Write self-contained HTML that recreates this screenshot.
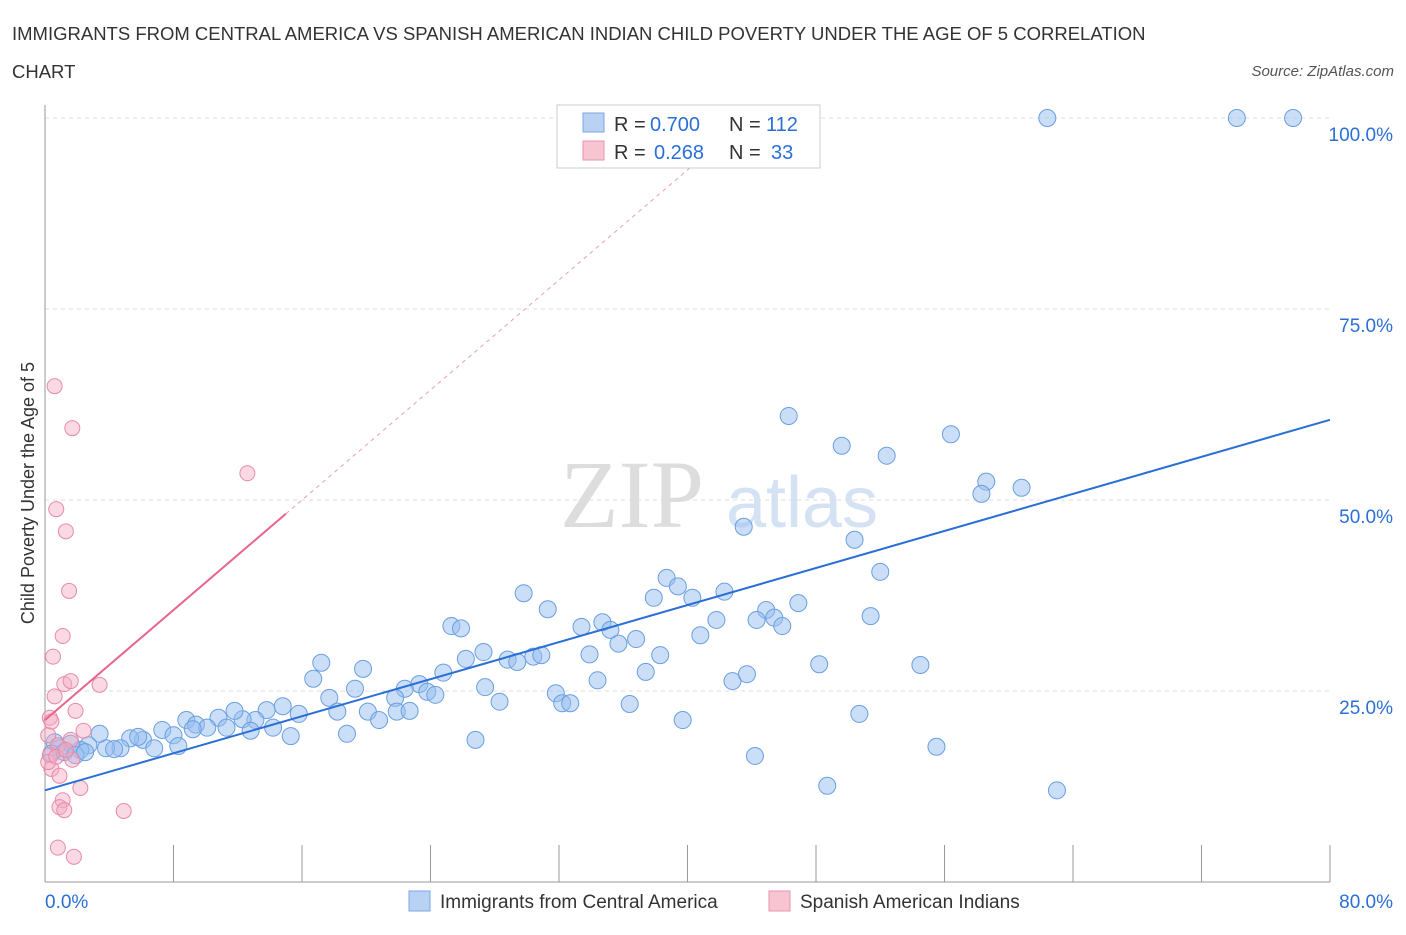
<!DOCTYPE html>
<html><head><meta charset="utf-8"><style>
body{margin:0;background:#fff;font-family:"Liberation Sans",sans-serif;}
</style></head><body>
<svg width="1406" height="930" xmlns="http://www.w3.org/2000/svg" font-family="Liberation Sans, sans-serif">
<text x="12" y="40" font-size="18.5" fill="#333">IMMIGRANTS FROM CENTRAL AMERICA VS SPANISH AMERICAN INDIAN CHILD POVERTY UNDER THE AGE OF 5 CORRELATION</text>
<text x="12" y="78" font-size="18.5" fill="#333">CHART</text>
<text x="1394" y="76" font-size="15" font-style="italic" fill="#555" text-anchor="end">Source: ZipAtlas.com</text>
<g>
<text x="632" y="527" font-size="96" font-family="Liberation Serif, serif" fill="#ddd" text-anchor="middle">ZIP</text>
<text x="802" y="527" font-size="72" fill="#d4e2f4" text-anchor="middle">atlas</text>
</g>
<g id="grid"></g>
<g id="axes"></g>
<g id="lines"></g>
<g id="pts"></g>
<g>
<rect x="557" y="105" width="263" height="63" fill="#fff" stroke="#ccc"/>
<rect x="583" y="113" width="21" height="19" fill="#b9d2f4" stroke="#7aa7e4"/>
<text x="614" y="131" font-size="20" fill="#333">R =</text>
<text x="650" y="131" font-size="20" fill="#2b6fd6">0.700</text>
<text x="729" y="131" font-size="20" fill="#333">N =</text>
<text x="766" y="131" font-size="20" fill="#2b6fd6">112</text>
<rect x="583" y="141" width="21" height="19" fill="#f7c4d2" stroke="#e993ad"/>
<text x="614" y="159" font-size="20" fill="#333">R =</text>
<text x="654" y="159" font-size="20" fill="#2b6fd6">0.268</text>
<text x="729" y="159" font-size="20" fill="#333">N =</text>
<text x="771" y="159" font-size="20" fill="#2b6fd6">33</text>
</g>
<g>
<rect x="409" y="891" width="21" height="20" fill="#b9d2f4" stroke="#7aa7e4"/>
<text x="440" y="908" font-size="19" fill="#333">Immigrants from Central America</text>
<rect x="769" y="891" width="21" height="20" fill="#f7c4d2" stroke="#e993ad"/>
<text x="800" y="908" font-size="19" fill="#333">Spanish American Indians</text>
</g>
<text transform="translate(34,493) rotate(-90)" font-size="18" fill="#333" text-anchor="middle">Child Poverty Under the Age of 5</text>
</svg>
<script>
const blueX=[62.4,74.2,77.7,46.3,49.6,52.4,56.4,58.6,58.3,60.8,43.5,50.4,52.0,38.7,39.4,37.9,40.3,42.3,44.9,46.9,44.3,45.4,45.9,51.4,41.8,40.8,29.8,31.3,34.7,33.4,35.2,35.7,36.8,25.3,25.9,27.3,26.2,28.8,29.4,30.4,30.9,33.9,38.3,37.4,34.4,17.2,19.8,16.7,19.3,24.8,23.3,22.4,23.8,24.3,27.4,28.3,31.8,32.2,32.7,36.4,42.8,43.7,48.2,54.5,39.7,50.7,55.5,44.2,48.7,63.0,26.8,17.7,18.2,20.1,20.8,21.8,21.9,22.7,14.8,15.8,13.8,13.1,12.3,11.8,10.8,11.3,14.2,12.8,15.3,18.8,8.8,9.4,10.1,9.2,7.3,8.0,6.1,5.3,5.8,8.3,6.8,4.7,3.8,3.4,2.7,2.2,1.6,0.9,0.6,0.4,1.2,1.9,2.5,4.3];
const blueY=[100,100,100,61.0,57.1,55.8,58.6,52.4,50.8,51.6,46.5,44.8,40.6,39.8,38.7,37.2,37.2,38.0,35.6,36.5,34.3,34.6,33.5,34.8,34.3,32.3,37.8,35.7,34.0,33.4,33.0,31.2,31.8,33.5,33.2,30.1,29.2,29.1,28.8,29.5,29.7,29.8,29.7,27.5,26.4,28.7,27.9,26.6,25.3,27.4,25.9,25.3,24.9,24.5,25.5,23.6,24.7,23.4,23.4,23.3,26.3,27.2,28.5,28.4,21.2,22.0,17.7,16.5,12.6,12.0,18.6,24.1,22.3,22.3,21.2,24.1,22.3,22.4,23.0,22.0,22.5,21.2,21.3,22.4,21.5,20.2,20.2,19.8,19.1,19.4,21.2,20.6,20.2,20.0,19.9,19.2,18.6,18.8,19.0,17.8,17.5,17.5,17.5,19.4,17.9,17.3,18.1,17.5,18.3,16.8,17.0,16.6,17.0,17.4];
const pinkX=[0.6,1.7,12.6,0.7,1.3,1.5,1.1,0.5,1.2,1.6,3.4,0.6,1.9,0.3,0.4,2.4,0.2,1.6,0.8,0.3,1.7,0.4,0.9,2.2,1.1,0.9,1.2,4.9,0.8,1.8,0.2,0.7,1.3];
const pinkY=[64.9,59.4,53.5,48.8,45.9,38.1,32.2,29.5,25.9,26.3,25.8,24.3,22.4,21.5,21.0,19.8,19.2,18.6,17.9,16.6,16.0,14.8,13.9,12.3,10.7,9.8,9.4,9.3,4.5,3.3,15.7,16.4,17.3];
const blueTrend=[0,12.0,80,60.5];
const pinkTrend=[0,21.2,15,48.2];
const xTicks=[0,8,16,24,32,40,48,56,64,72,80];
const yTicks=[25,50,75,100];
const yTickLabels=["25.0%","50.0%","75.0%","100.0%"];
const NS="http://www.w3.org/2000/svg";
const X=v=>45+v/80*1285, Y=v=>882-v/100*764;
function mk(p,t,a){const e=document.createElementNS(NS,t);for(const k in a)e.setAttribute(k,a[k]);p.appendChild(e);return e;}
const grid=document.getElementById('grid'),axes=document.getElementById('axes');
yTicks.forEach((v,i)=>{
 const l=mk(grid,'line',{x1:45,x2:1330,y1:Y(v),y2:Y(v),stroke:'#ddd','stroke-dasharray':'4,4'});
 
 
 const t=mk(axes,'text',{x:1393,y:Y(v)+23,'font-size':19,fill:'#2b6fd6','text-anchor':'end'});
 t.textContent=yTickLabels[i];
 
 
});
mk(axes,'line',{x1:45,x2:45,y1:105,y2:882,stroke:'#999'});
mk(axes,'line',{x1:45,x2:1330,y1:882,y2:882,stroke:'#999'});
xTicks.forEach(v=>{const t=mk(axes,'line',{x1:X(v),x2:X(v),y1:845,y2:882,stroke:'#999'});
 
 });
let t0=mk(axes,'text',{x:45,y:908,'font-size':19,fill:'#2b6fd6'});t0.textContent='0.0%';
let t1=mk(axes,'text',{x:1393,y:908,'font-size':19,fill:'#2b6fd6','text-anchor':'end'});t1.textContent='80.0%';
const lines=document.getElementById('lines'),pts=document.getElementById('pts');
const pd=mk(lines,'line',{x1:X(pinkTrend[2]),y1:Y(pinkTrend[3]),x2:X(pinkTrend[0]+(100-pinkTrend[1])/((pinkTrend[3]-pinkTrend[1])/(pinkTrend[2]-pinkTrend[0]))*0.93),y2:Y(pinkTrend[1]+(100-pinkTrend[1])*0.93),stroke:'#e8a0b4','stroke-dasharray':'4,4','stroke-width':1});


blueX.forEach((x,i)=>{const c=mk(pts,'circle',{cx:X(x),cy:Y(blueY[i]),r:8.5,fill:'rgba(150,190,240,0.5)',stroke:'#6a9fe0','stroke-width':1});
 
 });
pinkX.forEach((x,i)=>{const c=mk(pts,'circle',{cx:X(x),cy:Y(pinkY[i]),r:7.5,fill:'rgba(244,170,195,0.45)',stroke:'#e88aa8','stroke-width':1});
 
 });
const bl=mk(pts,'line',{x1:X(blueTrend[0]),y1:Y(blueTrend[1]),x2:X(blueTrend[2]),y2:Y(blueTrend[3]),stroke:'#2a6fd6','stroke-width':2});


const pl=mk(pts,'line',{x1:X(pinkTrend[0]),y1:Y(pinkTrend[1]),x2:X(pinkTrend[2]),y2:Y(pinkTrend[3]),stroke:'#e8648c','stroke-width':2});


</script>
</body></html>
